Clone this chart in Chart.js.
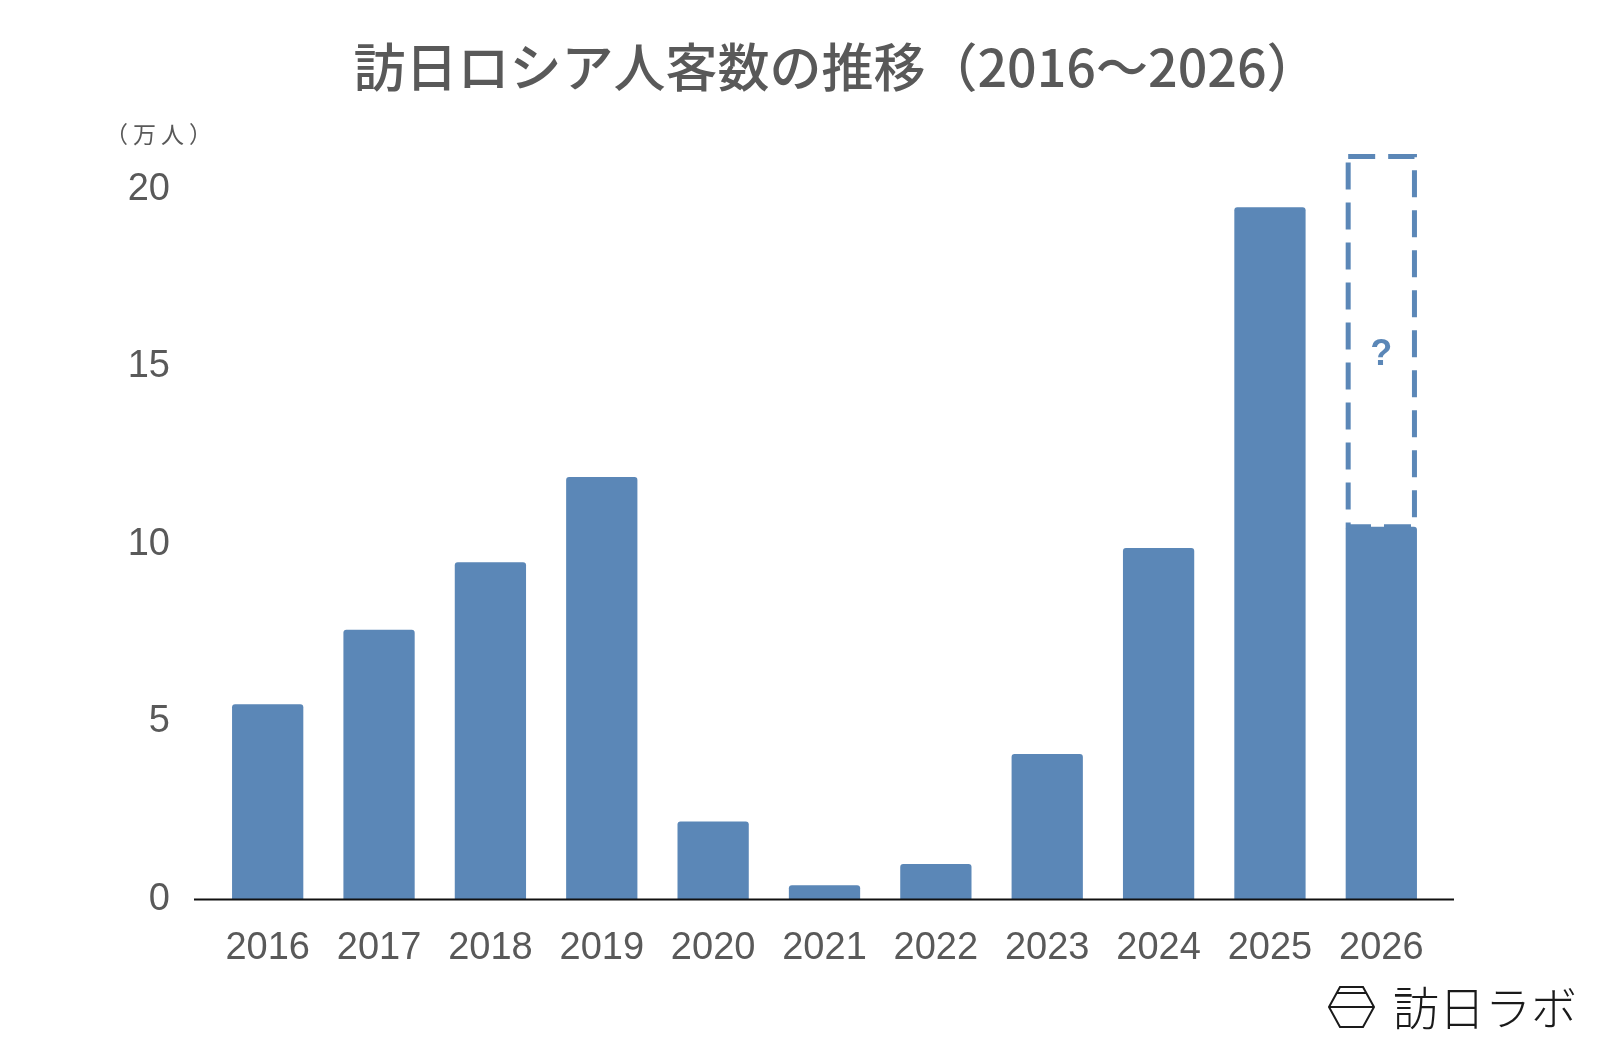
<!DOCTYPE html>
<html>
<head>
<meta charset="utf-8">
<script src="https://cdn.jsdelivr.net/npm/chart.js@4"></script>
<style>
  html, body { margin: 0; padding: 0; background: #fff; }
  #wrap { width: 1600px; height: 1048px; position: relative; }
</style>
</head>
<body>
<div id="wrap"><canvas id="visitorsChart"></canvas></div>
<script>
// --- DATA ---
const years = ['2016', '2017', '2018', '2019', '2020', '2021', '2022', '2023', '2024', '2025', '2026'];
const visitors = [5.5, 7.6, 9.5, 11.9, 2.2, 0.4, 1.0, 4.1, 9.9, 19.5, 10.5];   // 万人
const projected = [null, null, null, null, null, null, null, null, null, null, [10.5, 21]];
const yTicks = [0, 5, 10, 15, 20];
const yMax = 21;

const titleText = '訪日ロシア人客数の推移（2016～2026）';
const unitText = '（万人）';
const logoText = '訪日ラボ';

const barColor = '#5b87b7';
const textGray = '#595959';

// --- PLUGINS ---
const decorations = {
    id: 'decorations',
    beforeDraw(chart) {
        const ctx = chart.ctx;
        ctx.save();
        // title
        ctx.fillStyle = textGray;
        ctx.font = '500 52px "Noto Sans CJK JP"';
        ctx.textAlign = 'center';
        ctx.textBaseline = 'middle';
        ctx.fillText(titleText, 836, 67);
        // unit
        ctx.font = '23px "Noto Sans CJK JP"';
        ctx.letterSpacing = '5px';
        ctx.textAlign = 'left';
        ctx.fillText(unitText, 105, 134);
        ctx.letterSpacing = '0px';
        // logo
        ctx.strokeStyle = '#1a1a1a';
        ctx.lineWidth = 2;
        ctx.beginPath();
        ctx.moveTo(1340, 987); ctx.lineTo(1363, 987); ctx.lineTo(1374, 1007);
        ctx.lineTo(1363, 1027); ctx.lineTo(1340, 1027); ctx.lineTo(1329, 1007);
        ctx.closePath();
        ctx.moveTo(1329, 1007); ctx.lineTo(1374, 1007);
        ctx.moveTo(1337, 993); ctx.lineTo(1366, 993);
        ctx.stroke();
        ctx.fillStyle = '#1a1a1a';
        ctx.font = '300 46px "Noto Sans CJK JP"';
        ctx.textAlign = 'left';
        ctx.fillText(logoText, 1393, 1008);
        ctx.restore();
    },
    afterDatasetsDraw(chart) {
        const ctx = chart.ctx;
        const area = chart.chartArea;
        const y0 = chart.scales.y.getPixelForValue(0);
        ctx.save();

        // dashed outline for the projection
        const meta = chart.getDatasetMeta(1);
        meta.data.forEach((el, i) => {
            if (projected[i] == null) return;
            const p = el.getProps(['x', 'y', 'base', 'width'], true);
            const left = p.x - p.width / 2;
            ctx.strokeStyle = barColor;
            ctx.lineWidth = 5;
            ctx.setLineDash([27, 13]);
            ctx.strokeRect(left + 2.5, p.y + 2.5, p.width - 5, p.base - p.y - 2.5);
            ctx.setLineDash([]);
            ctx.fillStyle = barColor;
            ctx.font = 'bold 36px "Liberation Sans"';
            ctx.textAlign = 'center';
            ctx.textBaseline = 'middle';
            ctx.fillText('?', p.x, p.y + (p.base - p.y) * 0.54);
        });

        // zero line
        ctx.strokeStyle = '#111';
        ctx.lineWidth = 2;
        ctx.beginPath();
        ctx.moveTo(area.left - 18, y0);
        ctx.lineTo(area.right + 17, y0);
        ctx.stroke();
        ctx.restore();
    }
};

// --- CHART SETUP ---
const ctx = document.getElementById('visitorsChart').getContext('2d');

new Chart(ctx, {
    type: 'bar',
    data: {
        labels: years,
        datasets: [{
            data: visitors,
            backgroundColor: barColor,
            borderRadius: 3,
            borderSkipped: 'bottom',
            grouped: false,
            barPercentage: 0.64,
            categoryPercentage: 1
        }, {
            data: projected,
            backgroundColor: 'rgba(0,0,0,0)',
            grouped: false,
            barPercentage: 0.64,
            categoryPercentage: 1
        }]
    },
    options: {
        responsive: true,
        maintainAspectRatio: false,
        animation: false,
        layout: { padding: { top: 154, right: 163, left: 0, bottom: 0 } },
        plugins: { legend: { display: false }, tooltip: { enabled: false }, title: { display: false } },
        scales: {
            x: {
                grid: { display: false, drawTicks: false },
                border: { display: false },
                ticks: { color: textGray, font: { family: 'Liberation Sans', size: 38 }, padding: 26, maxRotation: 0 },
                afterFit: (scale) => { scale.height = 148.5; }
            },
            y: {
                min: 0,
                max: yMax,
                grid: { display: false, drawTicks: false },
                border: { display: false },
                ticks: { color: textGray, font: { family: 'Liberation Sans', size: 38 }, padding: 42 },
                afterBuildTicks: (scale) => { scale.ticks = yTicks.map(v => ({ value: v })); },
                afterFit: (scale) => { scale.width = 212; }
            }
        }
    },
    plugins: [decorations]
});
</script>
</body>
</html>
